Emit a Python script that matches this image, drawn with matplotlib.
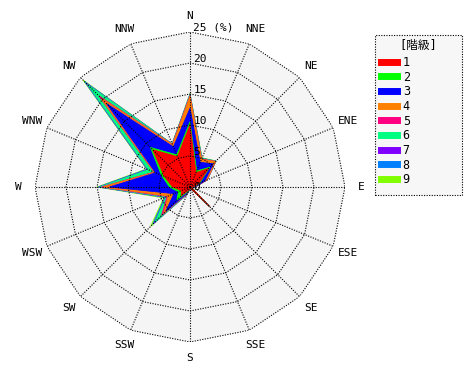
import numpy as np
import matplotlib
matplotlib.use('Agg')
import matplotlib.pyplot as plt
from matplotlib.lines import Line2D
from matplotlib.patches import Rectangle

plt.rcParams['font.family'] = ['DejaVu Sans Mono', 'Noto Sans CJK JP']
plt.rcParams['font.size'] = 8

directions = ['N', 'NNE', 'NE', 'ENE', 'E', 'ESE', 'SE', 'SSE',
              'S', 'SSW', 'SW', 'WSW', 'W', 'WNW', 'NW', 'NNW']
class_labels = ['1', '2', '3', '4', '5', '6', '7', '8', '9']
class_colors = ['#ff0000', '#00ff00', '#0000ff', '#ff8000', '#ff0080',
                '#00ff80', '#8000ff', '#0080ff', '#80ff00']

# frequency (%) of each class per direction, N clockwise to NNW
freq_1 = [10.0, 2.5, 4.2, 1.5, 0.5, 0.2, 4.5, 0.2, 0.3, 0.5, 2.0, 1.5, 2.8, 4.5, 8.5, 5.3]
freq_2 = [0.5, 0.3, 0.3, 0.2, 0.1, 0.0, 0.0, 0.0, 0.0, 0.2, 1.0, 0.5, 0.5, 0.5, 0.5, 0.3]
freq_3 = [2.2, 1.5, 0.8, 0.9, 0.2, 0.0, 0.0, 0.0, 0.0, 0.3, 2.5, 0.8, 9.7, 1.0, 10.0, 1.4]
freq_4 = [1.9, 0.5, 0.5, 0.3, 0.0, 0.0, 0.0, 0.0, 0.0, 0.1, 0.5, 1.0, 1.0, 0.2, 1.2, 0.35]
freq_5 = [0.15, 0.1, 0.05, 0.1, 0.0, 0.0, 0.0, 0.0, 0.0, 0.1, 0.5, 0.2, 0.3, 0.1, 0.6, 0.1]
freq_6 = [0.1, 0.1, 0.05, 0.0, 0.0, 0.0, 0.0, 0.0, 0.0, 0.1, 1.5, 0.2, 0.3, 1.0, 2.6, 0.05]
freq_7 = [0.05, 0.0, 0.0, 0.0, 0.0, 0.0, 0.0, 0.0, 0.0, 0.0, 0.2, 0.1, 0.1, 0.1, 0.3, 0.0]
freq_8 = [0.05, 0.0, 0.0, 0.0, 0.0, 0.0, 0.0, 0.0, 0.0, 0.0, 0.3, 0.1, 0.1, 0.1, 0.3, 0.0]
freq_9 = [0.15, 0.1, 0.05, 0.0, 0.0, 0.0, 0.0, 0.0, 0.0, 0.0, 0.5, 0.2, 0.2, 0.1, 0.4, 0.05]

r_ticks = [5, 10, 15, 20, 25]
r_tick_labels = ['5', '10', '15', '20', '25 (%)']

classes = [freq_1, freq_2, freq_3, freq_4, freq_5, freq_6, freq_7, freq_8, freq_9]
cum = np.cumsum(np.array(classes), axis=0)

theta = np.deg2rad(np.arange(len(directions)) * 360.0 / len(directions))
theta_c = np.append(theta, theta[0])
rmax = r_ticks[-1]

fig = plt.figure(figsize=(4.7, 3.8), dpi=100)
ax = fig.add_axes([0.0745, 0.1, 0.6596, 0.8158], projection='polar')
ax.set_theta_zero_location('N')
ax.set_theta_direction(-1)
ax.set_ylim(0, rmax)
ax.axis('off')

# grey background polygon
ax.fill(theta_c, np.full(len(theta_c), rmax), color='#f5f5f5', lw=0, zorder=0)

# stacked classes, outermost first
for k in range(len(classes) - 1, -1, -1):
    r = np.append(cum[k], cum[k][0])
    ax.fill(theta_c, r, facecolor=class_colors[k], edgecolor=class_colors[k],
            lw=0.6, joinstyle='miter', zorder=2)

# polygonal dotted grid
dot = (0, (1, 1.3))
for rt in r_ticks:
    ax.plot(theta_c, np.full(len(theta_c), rt), color='black', lw=0.8, ls=dot, zorder=3)
for t in theta:
    ax.plot([t, t], [0, rmax], color='black', lw=0.8, ls=dot, zorder=3)

for rt, lab in zip(r_ticks, r_tick_labels):
    ax.annotate(lab, xy=(0, rt), xytext=(2.5, 3), textcoords='offset points',
                ha='left', va='center', zorder=4)
ax.annotate('0', xy=(0, 0), xytext=(2.5, 0), textcoords='offset points',
            ha='left', va='center', zorder=4)

for t, name in zip(theta, directions):
    ax.text(t, rmax * 1.105, name, ha='center', va='center')

# legend
W, H = 470.0, 380.0
fig.patches.append(Rectangle((375 / W, 1 - 195 / H), 87 / W, 160 / H,
                             transform=fig.transFigure, facecolor='#f7f7f7',
                             edgecolor='black', lw=0.8, ls=dot))
fig.text(418 / W, 1 - 45 / H, '[階級]', ha='center', va='center', fontsize=8.5)
handles = [Line2D([], [], color=c, lw=5) for c in class_colors]
fig.legend(handles, class_labels, loc='upper left', frameon=False,
           bbox_to_anchor=(372 / W, 1 - 46.5 / H), handlelength=1.3,
           handletextpad=0.5, labelspacing=0.14, borderpad=0.3, fontsize=8.5)

fig.savefig('out.png', dpi=100)
